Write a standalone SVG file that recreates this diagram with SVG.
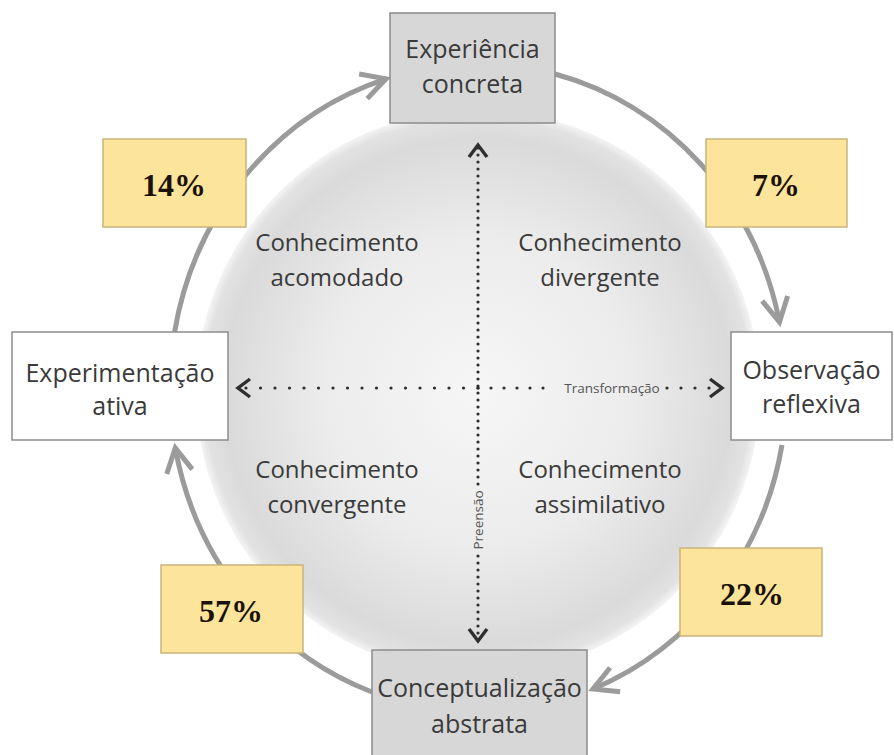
<svg xmlns="http://www.w3.org/2000/svg" width="894" height="755" viewBox="0 0 894 755">
<style>
.box{stroke:#8c8c8c;stroke-width:1.5}
.gbox{fill:#d7d7d7}
.wbox{fill:#ffffff}
.lbl{font-family:"Open Sans","Noto Sans",sans-serif;font-size:25px;fill:#3a3a3a;text-anchor:middle}
.q{font-family:"Open Sans","Noto Sans",sans-serif;font-size:24px;fill:#3a3a3a;text-anchor:middle}
.pct{fill:#fde49b;stroke:#c9b47c;stroke-width:1.5}
.pt{font-family:"Liberation Serif",serif;font-weight:bold;font-size:32px;fill:#1a1208;text-anchor:middle}
.arc{fill:none;stroke:#9b9b9b;stroke-width:5}
.dot{fill:none;stroke:#2e2e2e;stroke-width:3.2;stroke-linecap:round}
.small{font-family:"Open Sans","Noto Sans",sans-serif;font-size:13.5px;fill:#555;text-anchor:middle}
</style>
<defs>
<radialGradient id="disc" cx="0.5" cy="0.5" r="0.5">
<stop offset="0" stop-color="#f6f6f6"/>
<stop offset="0.55" stop-color="#ececec"/>
<stop offset="0.9" stop-color="#dadada"/>
<stop offset="0.97" stop-color="#e2e2e2"/>
<stop offset="1" stop-color="#f4f4f4"/>
</radialGradient>
<marker id="chev" markerUnits="userSpaceOnUse" markerWidth="60" markerHeight="60" viewBox="-30 -30 60 60" refX="0" refY="0" orient="auto" overflow="visible">
<path d="M-24,-13 L0,0 L-24,13" fill="none" stroke="#9b9b9b" stroke-width="5" stroke-linejoin="miter"/>
</marker>
<marker id="dchev" markerUnits="userSpaceOnUse" markerWidth="30" markerHeight="30" viewBox="-15 -15 30 30" refX="0" refY="0" orient="auto" overflow="visible">
<path d="M-12,-9 L0,0 L-12,9" fill="none" stroke="#2e2e2e" stroke-width="3.4"/>
</marker>
</defs>
<rect width="894" height="755" fill="#ffffff"/>
<circle cx="478" cy="392" r="282" fill="url(#disc)"/>
<g id="connectors">
<path class="arc" d="M174.6,332 A308,324 0 0,1 386,78.8" marker-end="url(#chev)"/>
<path class="arc" d="M555,74 A308,324 0 0,1 779.5,322" marker-end="url(#chev)"/>
<path class="arc" d="M782,445 A308,324 0 0,1 593,689" marker-end="url(#chev)"/>
<path class="arc" d="M372,692 A308,324 0 0,1 175.3,448" marker-end="url(#chev)"/>
<path class="dot" d="M478,388 L238,388" stroke-dasharray="0 14.5" marker-end="url(#dchev)"/>
<path class="dot" d="M478,388 L556,388" stroke-dasharray="0 13"/>
<path class="dot" d="M667,388 L722,388" stroke-dasharray="0 14" marker-end="url(#dchev)"/>
<text class="small" x="612" y="393">Transformação</text>
<path class="dot" d="M478,484 L478,145" stroke-dasharray="0 7" stroke-width="3" marker-end="url(#dchev)"/>
<path class="dot" d="M478,556 L478,641" stroke-dasharray="0 7" stroke-width="3" marker-end="url(#dchev)"/>
<text class="small" transform="translate(483,520) rotate(-90)">Preensão</text>
</g>
<g id="quadrants">
<text class="q" x="337" y="251">Conhecimento</text>
<text class="q" x="337" y="286">acomodado</text>
<text class="q" x="600" y="251">Conhecimento</text>
<text class="q" x="600" y="286">divergente</text>
<text class="q" x="337" y="478">Conhecimento</text>
<text class="q" x="337" y="513">convergente</text>
<text class="q" x="600" y="478">Conhecimento</text>
<text class="q" x="600" y="513">assimilativo</text>
</g>
<g id="node-experiencia">
<rect class="box gbox" x="390" y="13" width="165" height="110"/>
<text class="lbl" x="472.5" y="58">Experiência</text>
<text class="lbl" x="472.5" y="93">concreta</text>
</g>
<g id="node-observacao">
<rect class="box wbox" x="731" y="332" width="161" height="108"/>
<text class="lbl" x="811.5" y="379">Observação</text>
<text class="lbl" x="811.5" y="413">reflexiva</text>
</g>
<g id="node-conceptualizacao">
<rect class="box gbox" x="372" y="650" width="215" height="110"/>
<text class="lbl" x="479.5" y="697">Conceptualização</text>
<text class="lbl" x="479.5" y="733">abstrata</text>
</g>
<g id="node-experimentacao">
<rect class="box wbox" x="12" y="332" width="216" height="108"/>
<text class="lbl" x="120" y="382">Experimentação</text>
<text class="lbl" x="120" y="415">ativa</text>
</g>
<g id="pct-14">
<rect class="pct" x="103" y="139" width="143" height="88"/>
<text class="pt" x="174" y="196">14%</text>
</g>
<g id="pct-7">
<rect class="pct" x="706" y="139" width="141" height="88"/>
<text class="pt" x="776" y="196">7%</text>
</g>
<g id="pct-57">
<rect class="pct" x="161" y="565" width="142" height="88"/>
<text class="pt" x="231" y="622">57%</text>
</g>
<g id="pct-22">
<rect class="pct" x="680" y="548" width="142" height="88"/>
<text class="pt" x="752" y="605">22%</text>
</g>
</svg>
